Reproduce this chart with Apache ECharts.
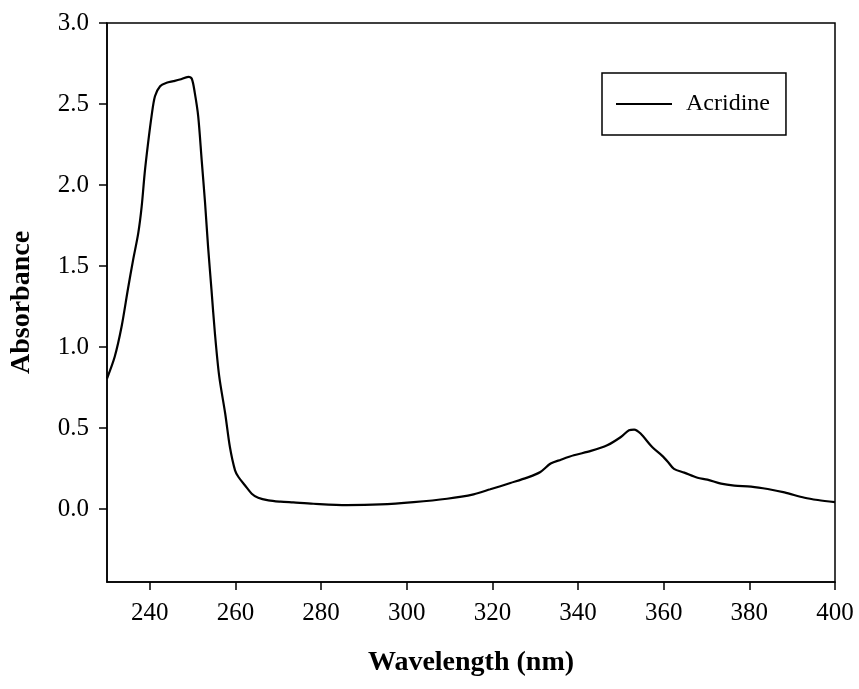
<!DOCTYPE html>
<html>
<head>
<meta charset="utf-8">
<script src="https://cdn.jsdelivr.net/npm/echarts@6/dist/echarts.min.js"></script>
<style>html,body{margin:0;padding:0;background:#fff}#c{width:859px;height:689px}</style>
</head>
<body>
<div id="c"></div>
<script>
const wavelength = [230.0,231.8,233.4,234.9,236.1,237.3,238.1,238.8,239.6,240.4,241.2,242.4,243.9,245.5,247.0,249.0,249.8,250.5,251.3,252.1,252.9,253.6,254.4,255.2,256.2,257.6,258.7,259.9,260.7,262.2,263.8,265.3,267.7,270.5,273.5,278.2,286.0,293.8,301.6,309.4,315.6,319.5,324.2,328.1,331.2,333.6,336.0,339.0,343.0,346.8,350.0,351.9,353.1,354.6,357.3,359.6,361.0,362.4,364.8,367.9,370.2,373.4,376.5,380.4,384.3,388.2,392.9,396.0,400.0];
const absorbance = [0.806,0.94,1.125,1.36,1.538,1.703,1.868,2.074,2.26,2.424,2.548,2.61,2.631,2.641,2.651,2.668,2.656,2.569,2.424,2.157,1.889,1.62,1.353,1.085,0.82,0.59,0.383,0.239,0.198,0.147,0.095,0.07,0.054,0.046,0.041,0.033,0.025,0.029,0.043,0.064,0.091,0.122,0.161,0.194,0.229,0.281,0.305,0.332,0.359,0.394,0.445,0.487,0.491,0.466,0.383,0.33,0.291,0.248,0.225,0.193,0.182,0.157,0.145,0.139,0.124,0.103,0.07,0.056,0.043];
const xTicks = [240,260,280,300,320,340,360,380,400];
const yTicks = [0,0.5,1.0,1.5,2.0,2.5,3.0];
const seriesName = 'Acridine';

const font = '"Liberation Serif","Times New Roman",serif';
const chart = echarts.init(document.getElementById('c'), null, {renderer:'canvas'});
chart.setOption({
  animation:false,
  backgroundColor:'#fff',
  grid:{left:107,top:23,width:728,height:559,containLabel:false,outerBoundsMode:'none',show:true,borderColor:'#000',borderWidth:1.5,backgroundColor:'transparent'},
  legend:{
    left:602, top:73,
    data:[{name:seriesName, icon:'rect'}],
    itemWidth:56, itemHeight:2,
    padding:[19,16,19,14],
    borderColor:'#000', borderWidth:1.5,
    textStyle:{fontFamily:font,fontSize:24,color:'#000',padding:[0,0,0,9]}
  },
  xAxis:{
    type:'value', min:230, max:400,
    name:'Wavelength (nm)', nameLocation:'middle', nameGap:67,
    nameTextStyle:{fontFamily:font,fontSize:28,fontWeight:'bold',color:'#000'},
    axisLine:{onZero:false,lineStyle:{color:'#000',width:1.5}},
    axisTick:{show:true,length:8,customValues:xTicks,lineStyle:{color:'#000',width:1.5}},
    axisLabel:{customValues:xTicks,margin:19,fontFamily:font,fontSize:25,color:'#000'},
    splitLine:{show:false}
  },
  yAxis:{
    type:'value', min:-0.45, max:3.0,
    name:'Absorbance', nameLocation:'middle', nameGap:71,
    nameTextStyle:{fontFamily:font,fontSize:28,fontWeight:'bold',color:'#000'},
    axisLine:{show:true,onZero:false,lineStyle:{color:'#000',width:1.5}},
    axisTick:{show:true,length:8,customValues:yTicks,lineStyle:{color:'#000',width:1.5}},
    axisLabel:{customValues:yTicks,margin:18,fontFamily:font,fontSize:25,color:'#000',formatter:v=>v.toFixed(1)},
    splitLine:{show:false}
  },
  series:[{
    name:seriesName, type:'line',
    data:wavelength.map((w,i)=>[w,absorbance[i]]),
    showSymbol:false, smooth:0.3,
    lineStyle:{color:'#000',width:2.2},
    itemStyle:{color:'#000'}
  }]
});
</script>
</body>
</html>
